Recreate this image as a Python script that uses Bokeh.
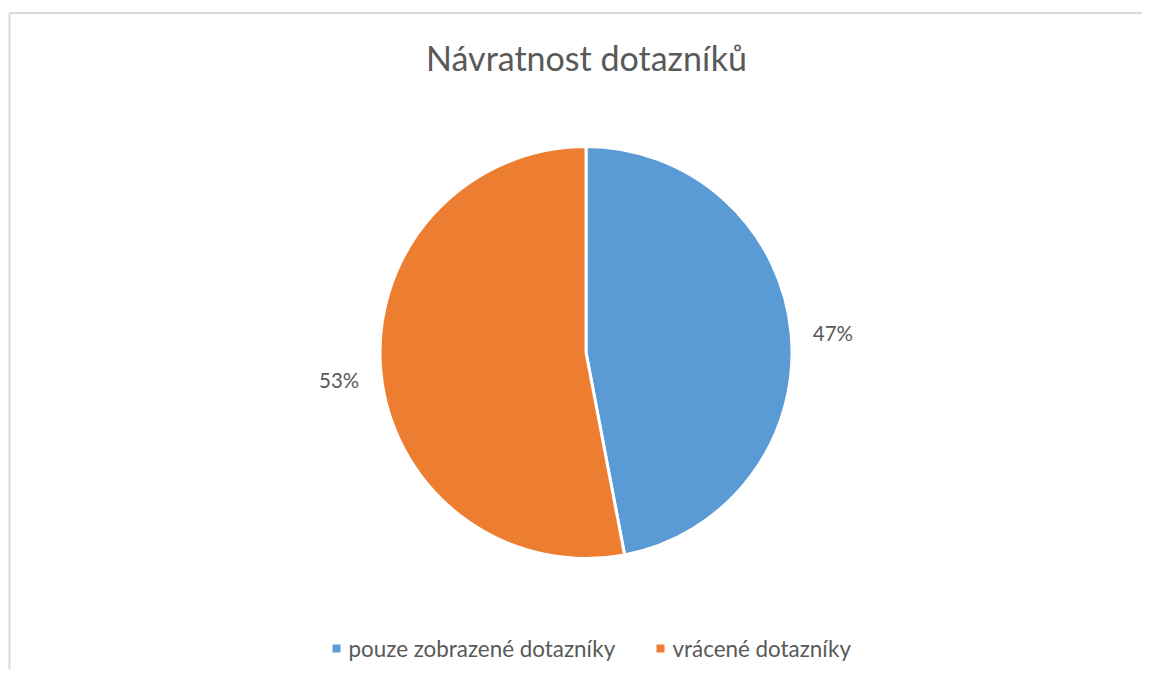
import math
from bokeh.plotting import figure
from bokeh.models import Range1d, ColumnDataSource
from bokeh.core.properties import value
from bokeh.embed import file_html
from bokeh.resources import INLINE

# ---- data ----
categories = ["pouze zobrazené dotazníky", "vrácené dotazníky"]
shares = [47, 53]
colors = ["#5B9BD5", "#ED7D31"]
title_text = "Návratnost dotazníků"

# ---- layout ----
W, H = 1142, 669
FONT = "Lato"
TEXT_COLOR = "#595959"

p = figure(width=W, height=H, output_backend="svg", toolbar_location=None,
           x_range=Range1d(0, W), y_range=Range1d(0, H), min_border=0,
           background_fill_color="white", border_fill_color="white")
p.axis.visible = False
p.grid.visible = False
p.outline_line_color = None

def Y(top):  # convert pixel-from-top to data y
    return H - top

# chart-area border (top and left visible)
p.segment(x0=[9, 9], y0=[Y(12.5), Y(12.5)], x1=[W, 9], y1=[Y(12.5), 0],
          line_color="#d9d9d9", line_width=2)

# title
p.text(x=[586], y=[Y(57)], text=[title_text], text_font=value(FONT),
       text_font_size="34px", text_color=TEXT_COLOR,
       text_align="center", text_baseline="middle")

# pie
cx, cy, r = 585.5, Y(352), 206
total = sum(shares)
starts, ends, mids = [], [], []
a = math.pi / 2
for s in shares:
    sweep = s / total * 2 * math.pi
    starts.append(a - sweep)
    ends.append(a)
    mids.append(a - sweep / 2)
    a -= sweep

src = ColumnDataSource(dict(start=starts, end=ends, color=colors, cat=categories))
p.wedge(x=cx, y=cy, radius=r, start_angle="start", end_angle="end",
        fill_color="color", line_color="white", line_width=3, source=src)

# data labels
lr = 248
lx = [cx + lr * math.cos(m) for m in mids]
ly = [cy + lr * math.sin(m) - 4 for m in mids]
lt = [f"{round(s / total * 100)}%" for s in shares]
p.text(x=lx, y=ly, text=lt, text_font=value(FONT), text_font_size="20.5px",
       text_color=TEXT_COLOR, text_align="center", text_baseline="middle")

# legend
leg_y = Y(648)
mx = [336, 660]
p.scatter(x=mx, y=[leg_y] * 2, marker="square", size=8, fill_color=colors,
          line_color=None)
p.text(x=[m + 12 for m in mx], y=[leg_y] * 2, text=categories,
       text_font=value(FONT), text_font_size="22.4px", text_color=TEXT_COLOR,
       text_align="left", text_baseline="middle")

open("out.html", "w").write(file_html(p, INLINE))
